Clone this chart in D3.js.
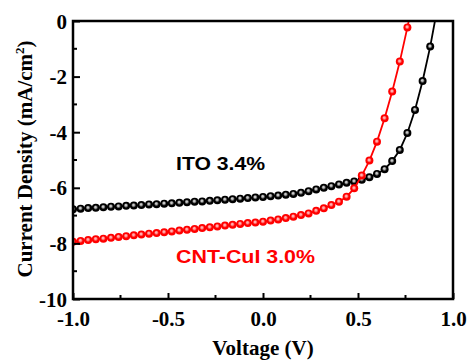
<!DOCTYPE html>
<html>
<head>
<meta charset="utf-8">
<script src="https://cdn.jsdelivr.net/npm/d3@7"></script>
<style>
  html, body { margin: 0; padding: 0; background: #fff; }
  svg { display: block; }
  .tick-label { font-family: "Liberation Serif", "Times New Roman", serif; font-weight: bold; font-size: 21px; }
  .axis-title { font-family: "Liberation Serif", "Times New Roman", serif; font-weight: bold; font-size: 21px; }
  .note { font-family: "Liberation Sans", Arial, sans-serif; font-weight: bold; font-size: 19px; }
</style>
</head>
<body>
<svg id="chart"></svg>
<script>
// J-V curves, voltage step 0.04 V
const itoVoltage = [-1.00,-0.96,-0.92,-0.88,-0.84,-0.80,-0.76,-0.72,-0.68,-0.64,-0.60,-0.56,-0.52,-0.48,-0.44,-0.40,
  -0.36,-0.32,-0.28,-0.24,-0.20,-0.16,-0.12,-0.08,-0.04,0.00,0.04,0.08,0.12,0.16,0.20,0.24,0.28,0.32,0.36,0.40,
  0.44,0.48,0.52,0.56,0.60,0.64,0.68,0.72,0.76,0.80,0.84,0.88,0.92];
const itoCurrent = [-6.77,-6.75,-6.73,-6.72,-6.70,-6.68,-6.67,-6.65,-6.64,-6.62,-6.60,-6.59,-6.57,-6.56,-6.54,-6.52,
  -6.50,-6.49,-6.47,-6.45,-6.43,-6.41,-6.39,-6.37,-6.35,-6.33,-6.30,-6.28,-6.25,-6.22,-6.18,-6.12,-6.06,-6.00,-5.94,-5.88,
  -5.82,-5.77,-5.71,-5.62,-5.50,-5.33,-5.04,-4.64,-4.03,-3.20,-2.16,-0.92,0.55];

const cntVoltage = [-1.00,-0.96,-0.92,-0.88,-0.84,-0.80,-0.76,-0.72,-0.68,-0.64,-0.60,-0.56,-0.52,-0.48,-0.44,-0.40,
  -0.36,-0.32,-0.28,-0.24,-0.20,-0.16,-0.12,-0.08,-0.04,0.00,0.04,0.08,0.12,0.16,0.20,0.24,0.28,0.32,0.36,0.40,
  0.44,0.48,0.52,0.56,0.60,0.64,0.68,0.72,0.76,0.80];
const cntCurrent = [-7.94,-7.91,-7.88,-7.85,-7.83,-7.80,-7.77,-7.74,-7.71,-7.68,-7.65,-7.63,-7.60,-7.57,-7.54,-7.51,
  -7.48,-7.45,-7.42,-7.39,-7.36,-7.33,-7.30,-7.27,-7.25,-7.22,-7.18,-7.14,-7.09,-7.04,-6.98,-6.92,-6.83,-6.74,-6.62,-6.50,
  -6.32,-6.02,-5.56,-5.02,-4.34,-3.50,-2.54,-1.46,-0.23,1.10];

const xTicks = [-1.0, -0.5, 0.0, 0.5, 1.0];
const xMinor = [-0.75, -0.25, 0.25, 0.75];
const yTicks = [0, -2, -4, -6, -8, -10];
const yMinor = [-1, -3, -5, -7, -9];

const series = [
  { name: "ITO", x: itoVoltage, y: itoCurrent, color: "#000000", hi: "#c8c8c8", label: "ITO 3.4%", lx: 176, ly: 170, lw: 89 },
  { name: "CNT", x: cntVoltage, y: cntCurrent, color: "#ff0000", hi: "#ffb0b0", label: "CNT-CuI 3.0%", lx: 176, ly: 263, lw: 139 }
];

const width = 468, height = 360;
const margin = { top: 21, right: 15, bottom: 61, left: 73 };
const innerW = width - margin.left - margin.right;
const innerH = height - margin.top - margin.bottom;

const svg = d3.select("#chart").attr("width", width).attr("height", height);

const x = d3.scaleLinear().domain([-1, 1]).range([0, innerW]);
const y = d3.scaleLinear().domain([-10, 0]).range([innerH, 0]);

const defs = svg.append("defs");
defs.append("clipPath").attr("id", "plot-clip")
  .append("rect").attr("width", innerW).attr("height", innerH);

// shaded ball markers
series.forEach(s => {
  const g = defs.append("radialGradient").attr("id", `ball-${s.name}`)
    .attr("cx", "50%").attr("cy", "50%").attr("r", "50%").attr("fx", "45%").attr("fy", "40%");
  g.append("stop").attr("offset", "0%").attr("stop-color", s.hi);
  g.append("stop").attr("offset", "20%").attr("stop-color", s.hi);
  g.append("stop").attr("offset", "60%").attr("stop-color", s.color);
  g.append("stop").attr("offset", "100%").attr("stop-color", s.color);
});

const plot = svg.append("g").attr("transform", `translate(${margin.left},${margin.top})`);

// data
const data = plot.append("g").attr("clip-path", "url(#plot-clip)");
const line = d3.line().x(d => x(d[0])).y(d => y(d[1]));

series.forEach(s => {
  const pts = s.x.map((v, i) => [v, s.y[i]]);
  data.append("path")
    .datum(pts)
    .attr("fill", "none")
    .attr("stroke", s.color)
    .attr("stroke-width", 1.8)
    .attr("d", line);
  data.selectAll(`.dot-${s.name}`)
    .data(pts)
    .enter().append("circle")
    .attr("class", `dot-${s.name}`)
    .attr("cx", d => x(d[0]))
    .attr("cy", d => y(d[1]))
    .attr("r", 4)
    .attr("fill", `url(#ball-${s.name})`);
});

// axes
const xAxis = plot.append("g").attr("transform", `translate(0,${innerH})`)
  .call(d3.axisBottom(x).tickValues(xTicks).tickSize(-6).tickPadding(12).tickFormat(d3.format(".1f")));
xAxis.append("g").selectAll("line").data(xMinor).enter().append("line")
  .attr("x1", d => x(d)).attr("x2", d => x(d)).attr("y1", 0).attr("y2", -4)
  .attr("stroke", "#000").attr("stroke-width", 2);

const yAxis = plot.append("g")
  .call(d3.axisLeft(y).tickValues(yTicks).tickSize(-7).tickPadding(6).tickFormat(d3.format("d")));
yAxis.append("g").selectAll("line").data(yMinor).enter().append("line")
  .attr("y1", d => y(d)).attr("y2", d => y(d)).attr("x1", 0).attr("x2", 4)
  .attr("stroke", "#000").attr("stroke-width", 2);

[xAxis, yAxis].forEach(a => {
  a.select(".domain").remove();
  a.selectAll(".tick line").attr("stroke", "#000").attr("stroke-width", 2);
  a.selectAll(".tick text").attr("class", "tick-label").attr("fill", "#000")
    .text(function() { return d3.select(this).text().replace("\u2212", "-"); });
});
yAxis.selectAll(".tick text").attr("dy", "0.34em");

// frame
plot.append("rect")
  .attr("width", innerW).attr("height", innerH)
  .attr("fill", "none").attr("stroke", "#000").attr("stroke-width", 2.5);

// axis titles
svg.append("text").attr("class", "axis-title")
  .attr("x", margin.left + innerW / 2).attr("y", 355)
  .attr("text-anchor", "middle").text("Voltage (V)");

const yt = svg.append("text").attr("class", "axis-title")
  .attr("transform", `translate(32,${margin.top + innerH / 2 - 1}) rotate(-90)`)
  .attr("text-anchor", "middle");
yt.append("tspan").text("Current Density (mA/cm");
yt.append("tspan").attr("dy", -8).style("font-size", "13px").text("2");
yt.append("tspan").attr("dy", 8).text(")");

// annotations
series.forEach(s => {
  svg.append("text").attr("class", "note")
    .attr("x", s.lx).attr("y", s.ly)
    .attr("fill", s.color)
    .attr("textLength", s.lw).attr("lengthAdjust", "spacingAndGlyphs")
    .text(s.label);
});
</script>
</body>
</html>
